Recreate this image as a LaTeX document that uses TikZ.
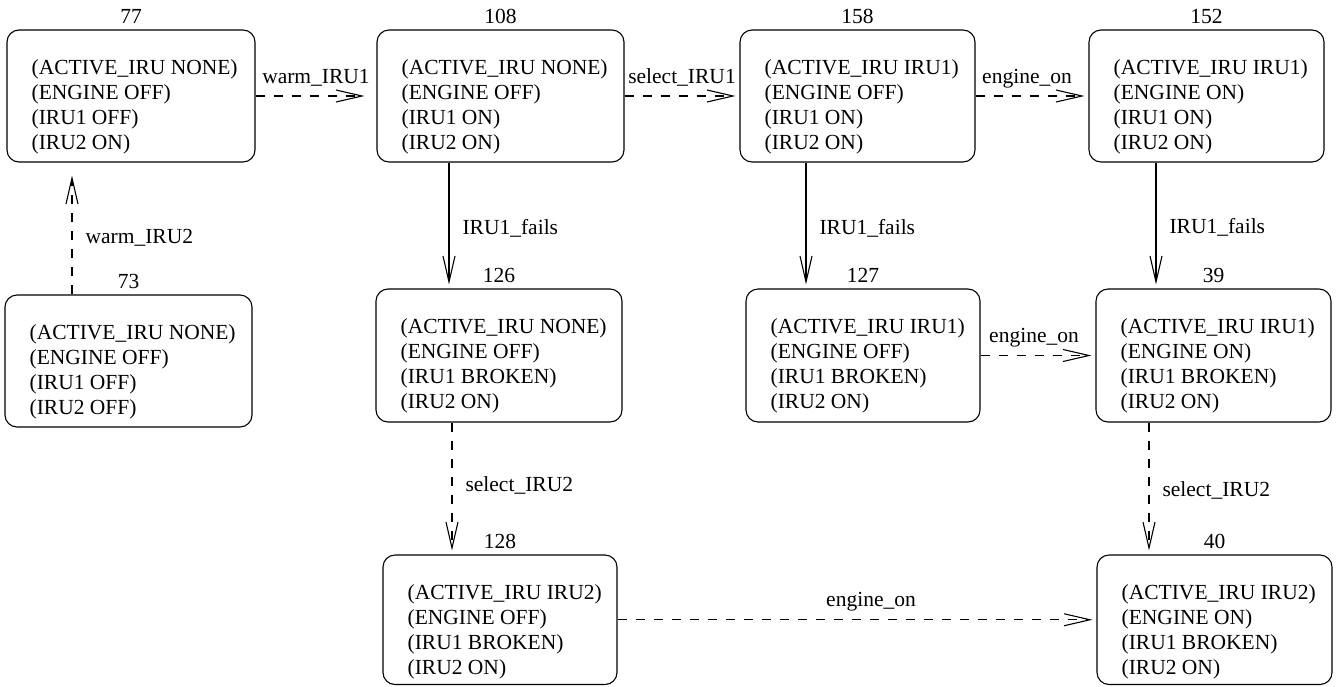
\documentclass[tikz,border=0pt]{standalone}
\usepackage{fontspec}
\setmainfont{Liberation Serif}
\usetikzlibrary{arrows.meta}
\newcommand{\statefont}{\fontsize{21.5pt}{25pt}\selectfont}
% name, cx, cy, W, H, id, text
\newcommand{\mkstate}[7]{%
  \node[box, minimum width=#4pt, minimum height=#5pt] (#1) at (#2,#3) {};
  \node[txt] (#1t) at ([xshift=25pt,yshift=-29.5pt]#1.north west) {#7};
  \node[idlab] (#1n) at ([yshift=6pt]#1.north) {#6};
}
\begin{document}
\begin{tikzpicture}[x=1pt,y=-1pt,
  box/.style={draw, rounded corners=12pt, line width=1.1pt, inner sep=0pt},
  txt/.style={anchor=north west, inner sep=0pt, align=left, font=\statefont},
  idlab/.style={anchor=base, inner sep=0pt, font=\statefont},
  edgebase/.style={line width=1.1pt, -{Straight Barb[length=26pt,width=12pt]}, shorten >=4pt},
  sedge/.style={edgebase},
  dedge/.style={edgebase, dash pattern=on 9pt off 9pt},
  hlab/.style={anchor=base, inner sep=0pt, font=\statefont, yshift=13pt},
  vlab/.style={anchor=west, inner sep=0pt, font=\statefont, xshift=13pt},
]
\useasboundingbox (0,0) rectangle (1341,686);

\mkstate{s77}{131}{96}{248}{132}{77}{(ACTIVE\_IRU NONE)\\(ENGINE OFF)\\(IRU1 OFF)\\(IRU2 ON)}
\mkstate{s108}{500.5}{96}{247}{132}{108}{(ACTIVE\_IRU NONE)\\(ENGINE OFF)\\(IRU1 ON)\\(IRU2 ON)}
\mkstate{s158}{857.5}{96}{235}{132}{158}{(ACTIVE\_IRU IRU1)\\(ENGINE OFF)\\(IRU1 ON)\\(IRU2 ON)}
\mkstate{s152}{1206.5}{96}{235}{132}{152}{(ACTIVE\_IRU IRU1)\\(ENGINE ON)\\(IRU1 ON)\\(IRU2 ON)}
\mkstate{s73}{128.5}{361}{247}{132}{73}{(ACTIVE\_IRU NONE)\\(ENGINE OFF)\\(IRU1 OFF)\\(IRU2 OFF)}
\mkstate{s126}{499}{355.5}{246}{133}{126}{(ACTIVE\_IRU NONE)\\(ENGINE OFF)\\(IRU1 BROKEN)\\(IRU2 ON)}
\mkstate{s127}{863}{355.5}{234}{133}{127}{(ACTIVE\_IRU IRU1)\\(ENGINE OFF)\\(IRU1 BROKEN)\\(IRU2 ON)}
\mkstate{s39}{1213.5}{355.5}{235}{133}{39}{(ACTIVE\_IRU IRU1)\\(ENGINE ON)\\(IRU1 BROKEN)\\(IRU2 ON)}
\mkstate{s128}{500}{619.75}{234}{129.5}{128}{(ACTIVE\_IRU IRU2)\\(ENGINE OFF)\\(IRU1 BROKEN)\\(IRU2 ON)}
\mkstate{s40}{1214.5}{619.75}{235}{129.5}{40}{(ACTIVE\_IRU IRU2)\\(ENGINE ON)\\(IRU1 BROKEN)\\(IRU2 ON)}

\draw[dedge, shorten >=12pt] (s77) -- node[hlab]{warm\_IRU1} (s108);
\draw[dedge] (s108) -- node[hlab]{select\_IRU1} (s158);
\draw[dedge] (s158) -- node[hlab, xshift=-5pt]{engine\_on} (s152);
\draw[dedge, shorten >=13pt] (s73.north -| 72,0) -- node[vlab, yshift=-9pt]{warm\_IRU2} (s77.south -| 72,0);
\draw[sedge] (s108.south -| 449,0) -- node[vlab, yshift=-3pt]{IRU1\_fails} (s126.north -| 449,0);
\draw[sedge] (s158.south -| 806,0) -- node[vlab, yshift=-3pt]{IRU1\_fails} (s127.north -| 806,0);
\draw[sedge] (s152.south -| 1156,0) -- node[vlab, yshift=-2pt]{IRU1\_fails} (s39.north -| 1156,0);
\draw[dedge] (s126.south -| 452,0) -- node[vlab, yshift=3pt]{select\_IRU2} (s128.north -| 452,0);
\draw[dedge] (s39.south -| 1149,0) -- node[vlab, yshift=-2pt]{select\_IRU2} (s40.north -| 1149,0);
\draw[dedge] (s127) -- node[hlab, xshift=-4pt]{engine\_on} (s39);
\draw[dedge] (s128) -- node[hlab, xshift=14pt]{engine\_on} (s40);
\end{tikzpicture}
\end{document}
